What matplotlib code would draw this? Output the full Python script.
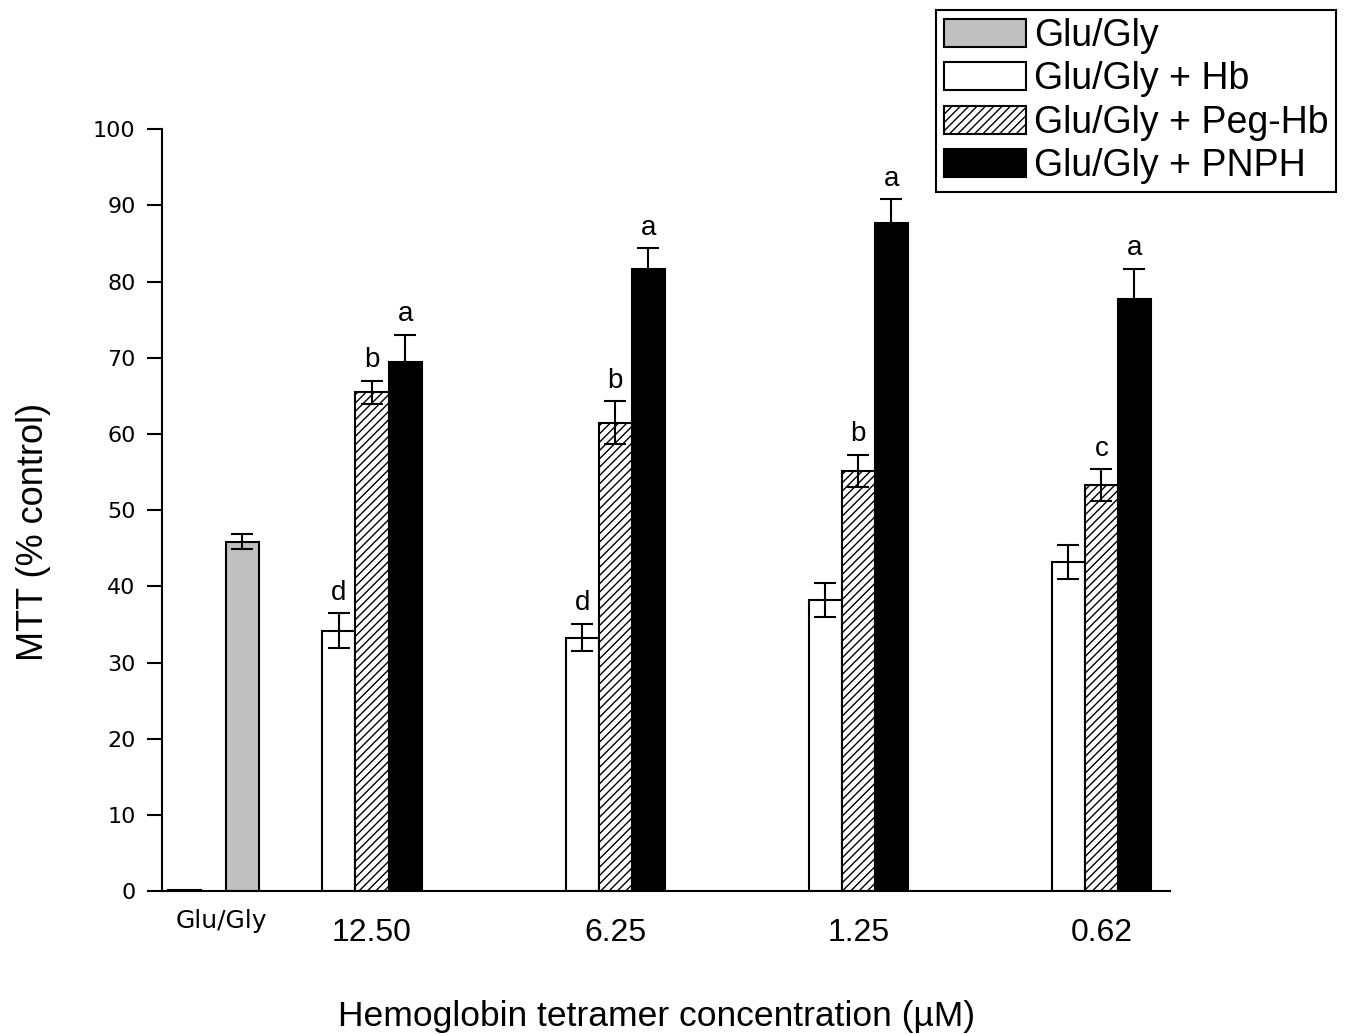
import numpy as np
import matplotlib.pyplot as plt
import matplotlib.patches as mpatches

plt.rcParams['font.family'] = ['Liberation Sans', 'DejaVu Sans']
plt.rcParams['hatch.linewidth'] = 1.0

# data
groups = ['12.50', '6.25', '1.25', '0.62']
hb = [34.2, 33.3, 38.2, 43.2]
hb_err = [2.3, 1.8, 2.2, 2.2]
peg = [65.5, 61.5, 55.2, 53.3]
peg_err = [1.5, 2.8, 2.1, 2.1]
pnph = [69.5, 81.6, 87.7, 77.7]
pnph_err = [3.5, 2.8, 3.1, 4.0]
letters_hb = ['d', 'd', '', '']
letters_peg = ['b', 'b', 'b', 'c']
letters_pnph = ['a', 'a', 'a', 'a']
ctrl = 45.9
ctrl_err = 1.0
ctrl_blank = 0.2

legend_labels = ['Glu/Gly', 'Glu/Gly + Hb', 'Glu/Gly + Peg-Hb', 'Glu/Gly + PNPH']


def main():
    fig = plt.figure(figsize=(13.61, 10.34), dpi=100)
    ax = fig.add_axes([0.119, 0.138, 0.741, 0.737])

    w = 0.136
    x = np.arange(1, len(groups) + 1)
    ekw = dict(ecolor='black', elinewidth=1.5, capsize=8, capthick=1.5)

    # control group
    ax.bar(0.23, ctrl_blank, w, color='white', edgecolor='black', lw=1.5)
    ax.bar(0.467, ctrl, w, yerr=ctrl_err, color='#c0c0c0', edgecolor='black',
           lw=1.5, error_kw=ekw)

    ax.bar(x - w, hb, w, yerr=hb_err, color='white', edgecolor='black',
           lw=1.5, error_kw=ekw)
    ax.bar(x, peg, w, yerr=peg_err, color='white', edgecolor='black',
           hatch='////', lw=1.5, error_kw=ekw)
    ax.bar(x + w, pnph, w, yerr=pnph_err, color='black', edgecolor='black',
           lw=1.5, error_kw=ekw)

    for xs, vals, errs, labs in [(x - w, hb, hb_err, letters_hb),
                                 (x, peg, peg_err, letters_peg),
                                 (x + w, pnph, pnph_err, letters_pnph)]:
        for xi, v, e, t in zip(xs, vals, errs, labs):
            if t:
                ax.text(xi, v + e + 1.0, t, ha='center', va='bottom', fontsize=20)

    ax.set_xlim(0.136, 4.284)
    ax.set_ylim(0, 100)
    ax.set_yticks(np.arange(0, 101, 10))
    ax.set_yticklabels([str(v) for v in range(0, 101, 10)],
                       family='DejaVu Sans', fontsize=16)
    ax.set_xticks(x)
    ax.set_xticklabels(groups, fontsize=23)
    ax.set_xticks([0.38], minor=True)
    ax.set_xticklabels(['Glu/Gly'], minor=True, family='DejaVu Sans', fontsize=18)
    ax.tick_params(axis='x', which='major', length=0, pad=19)
    ax.tick_params(axis='x', which='minor', length=0, pad=13)
    ax.tick_params(axis='y', length=11, width=1.5, pad=8)
    for s in ['top', 'right']:
        ax.spines[s].set_visible(False)
    for s in ['left', 'bottom']:
        ax.spines[s].set_linewidth(1.5)

    ax.set_ylabel('MTT (% control)', fontsize=26)
    ax.yaxis.set_label_coords(-0.11, 0.472)
    ax.set_xlabel('Hemoglobin tetramer concentration (\u00b5M)', fontsize=25.5)
    ax.xaxis.set_label_coords(0.49, -0.143)

    handles = [mpatches.Patch(facecolor='#c0c0c0', edgecolor='black', lw=1.5),
               mpatches.Patch(facecolor='white', edgecolor='black', lw=1.5),
               mpatches.Patch(facecolor='white', edgecolor='black', hatch='////', lw=1.5),
               mpatches.Patch(facecolor='black', edgecolor='black', lw=1.5)]
    leg = fig.legend(handles, legend_labels, loc='upper left',
                     bbox_to_anchor=(0.688, 0.99), fontsize=27, fancybox=False,
                     edgecolor='black', framealpha=1, handlelength=2.2,
                     handleheight=0.78, handletextpad=0.2, labelspacing=0.2,
                     borderaxespad=0, borderpad=0.2)
    leg.get_frame().set_linewidth(1.5)

    fig.savefig('out.png', dpi=100)


if __name__ == '__main__':
    main()
